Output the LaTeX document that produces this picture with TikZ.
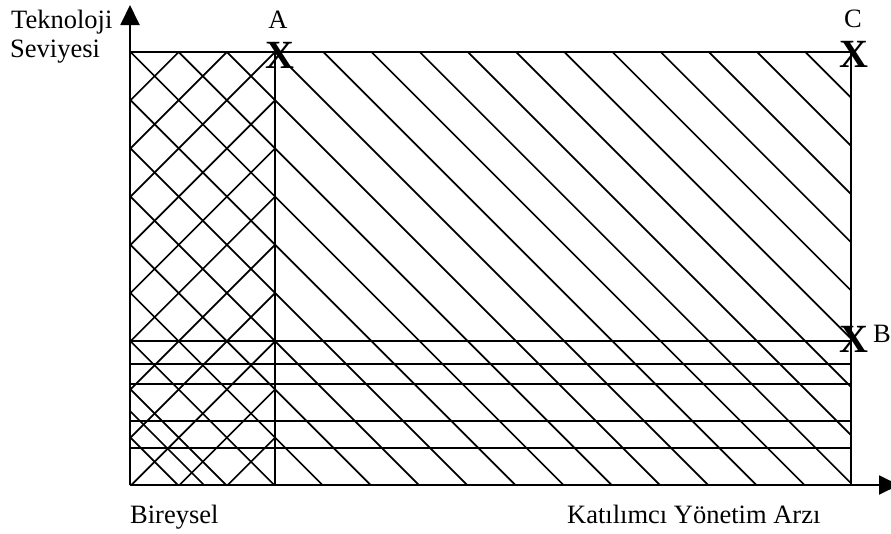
\documentclass[tikz,border=0pt]{standalone}
\usepackage{fontspec}
\setmainfont{Liberation Serif}
\usetikzlibrary{arrows.meta}
\begin{document}
\begin{tikzpicture}[x=1pt,y=-1pt,
  hatch/.style={line width=1.7pt},
  frame/.style={line width=1.9pt},
  lbl/.style={font=\fontsize{26.5}{30}\selectfont, inner sep=0pt},
  xmark/.style={font=\bfseries\fontsize{40}{44}\selectfont, inner sep=0pt},
  axisarrow/.style={line width=1.9pt, -{Triangle[length=20pt,width=19pt]}}]
\useasboundingbox (0,0) rectangle (891,533);
\clip (0,0) rectangle (891,533);
% hatching down-right over whole rectangle
\begin{scope}
  \clip (130,52) rectangle (851,485);
  \foreach \k in {-10,...,15} {
    \draw[hatch] ({78.5+48.2*\k},0) -- ({78.5+48.2*\k+600},600);
  }
  \foreach \yy in {341,364,384,421,448} {
    \draw[hatch] (130,\yy) -- (851,\yy);
  }
\end{scope}
% cross hatching in left strip
\begin{scope}
  \clip (130,52) rectangle (275,485);
  \foreach \m in {0,...,13} {
    \draw[hatch] ({182.5+48.2*\m},0) -- ({182.5+48.2*\m-600},600);
  }
  \draw[hatch] (-281,0) -- (319,600);
\end{scope}
% frame
\coordinate (O) at (130,485);
\coordinate (ytip) at (130,5);
\coordinate (xtip) at (899,485);
\coordinate (TL) at (130,52);
\coordinate (TR) at (851,52);
\coordinate (BR) at (851,485);
\coordinate (AT) at (275,52);
\coordinate (AB) at (275,485);
\draw[frame] (TL) -- (TR) -- (BR);
\draw[frame] (AT) -- (AB);
\draw[axisarrow] (O) -- (ytip);
\draw[axisarrow] (O) -- (xtip);
% labels
\node[lbl, anchor=base west] (tek) at (11,28) {Teknoloji};
\node[lbl, anchor=base west] (sev) at (10,57) {Seviyesi};
\node[lbl, anchor=base] (A) at (278,28) {A};
\node[lbl, anchor=base] (C) at (853,27) {C};
\node[lbl, anchor=base west] (B) at (873,342) {B};
\node[lbl, anchor=base west] (bir) at (130,523) {Bireysel};
\node[lbl, anchor=base west] (kat) at (567,523) {Katılımcı Yönetim Arzı};
% X marks
\node[xmark] (xa) at (280,55) {X};
\node[xmark] (xc) at (853.5,54) {X};
\node[xmark] (xb) at (853.5,339) {X};
\end{tikzpicture}
\end{document}
